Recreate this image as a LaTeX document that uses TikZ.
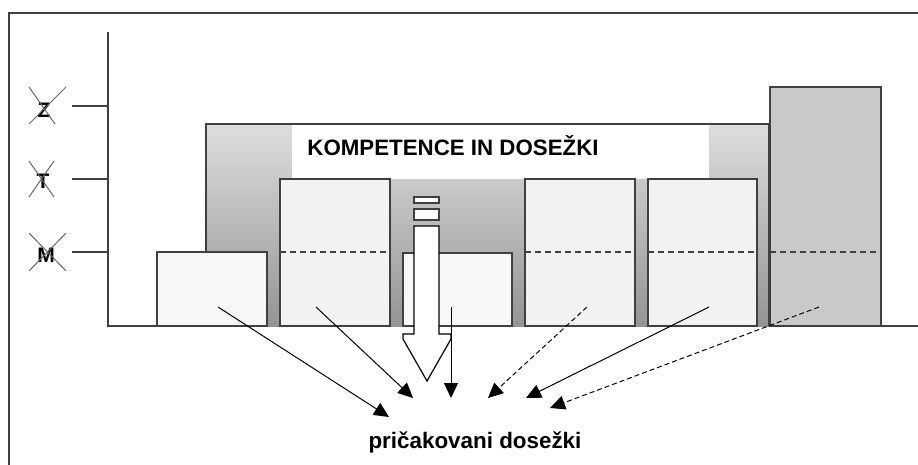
\documentclass[tikz,border=0pt]{standalone}
\usepackage{fontspec}
\setmainfont{Liberation Sans}
\usetikzlibrary{arrows.meta}
\definecolor{shtop}{gray}{0.87}
\definecolor{shbot}{gray}{0.58}
\definecolor{boxfill}{gray}{0.95}
\definecolor{lowfill}{gray}{0.97}
\definecolor{tallfill}{gray}{0.79}
\definecolor{edge}{gray}{0.25}
\tikzset{
  box/.style={draw=edge, line width=1.3pt},
  level/.style={draw=edge, line width=1.6pt, dash pattern=on 6pt off 4pt},
  cross/.style={draw=gray!80!black, line width=1pt},
  flow/.style={draw=black, line width=1pt, -{Triangle[length=15pt,width=14pt]}},
  dflow/.style={flow, dash pattern=on 5pt off 3pt},
  lbl/.style={font=\bfseries\fontsize{21}{25}\selectfont, inner sep=0pt}
}
\begin{document}
\begin{tikzpicture}[x=1pt,y=-1pt]
  \useasboundingbox (0,0) rectangle (918,465);
  % frame
  \draw [edge, line width=2.2pt] (9,470) -- (9,13) -- (925,13);
  % axes and levels
  \draw [edge, line width=1.3pt] (108,32) -- (108,326) -- (918,326);
  \draw [edge, line width=1.3pt] (72,106) -- (108,106);
  \draw [edge, line width=1.3pt] (72,179) -- (108,179);
  \draw [edge, line width=1.3pt] (72,252) -- (108,252);
  \node [lbl] (levZ) at (44,110) {Z};
  \node [lbl] (levT) at (43,181) {T};
  \node [lbl] (levM) at (46,255) {M};
  \draw [cross] (29,87) -- (55,124);
  \draw [cross] (66,87) -- (29,124);
  \draw [cross] (29,161) -- (54,197);
  \draw [cross] (54,161) -- (29,197);
  \draw [cross] (29,233) -- (66,271);
  \draw [cross] (66,233) -- (29,271);
  % shaded background and title
  \shade [top color=shtop, bottom color=shbot] (206,124) rectangle (769,326);
  \draw [edge, line width=1.3pt] (206,326) -- (206,124) -- (769,124) -- (769,326);
  \fill [white] (292,125) rectangle (709,179);
  \node [lbl, font=\bfseries\fontsize{22.3}{26}\selectfont] (title) at (453,146) {KOMPETENCE IN DOSEŽKI};
  % boxes
  \draw [box, fill=lowfill] (157,252) rectangle (267,326);
  \draw [box, fill=boxfill] (280,179) rectangle (390,326);
  \draw [box, fill=lowfill] (403,253) rectangle (512,326);
  \draw [box, fill=boxfill] (525,179) rectangle (635,326);
  \draw [box, fill=boxfill] (648,179) rectangle (757,326);
  \draw [box, fill=tallfill] (770,87) rectangle (881,326);
  \draw [level] (280,252) -- (390,252);
  \draw [level] (525,252) -- (635,252);
  \draw [level] (648,252) -- (757,252);
  \draw [level] (770,252) -- (881,252);
  % hollow arrow
  \draw [edge, line width=1.3pt, fill=white] (414,197) rectangle (439,203);
  \draw [edge, line width=1.3pt, fill=white] (414,209) rectangle (439,220);
  \draw [black, line width=1.2pt, fill=white] (414,226) -- (439,226) -- (439,334) -- (451,334)
    -- (451,339) -- (427,381) -- (403,339) -- (403,334) -- (414,334) -- cycle;
  % expected results
  \node [lbl, font=\bfseries\fontsize{22.4}{26}\selectfont] (result) at (475,442) {pričakovani dosežki};
  \coordinate (s1) at (218,307);
  \coordinate (s2) at (316,307);
  \coordinate (s3) at (451,307);
  \coordinate (s4) at (587,307);
  \coordinate (s5) at (709,307);
  \coordinate (s6) at (819,307);
  \coordinate (e1) at (389,417);
  \coordinate (e2) at (413,398);
  \coordinate (e3) at (451,398);
  \coordinate (e4) at (488,398);
  \coordinate (e5) at (526,398);
  \coordinate (e6) at (550,408);
  \draw [flow] (s1) -- (e1);
  \draw [flow] (s2) -- (e2);
  \draw [flow] (s3) -- (e3);
  \draw [dflow] (s4) -- (e4);
  \draw [flow] (s5) -- (e5);
  \draw [dflow] (s6) -- (e6);
\end{tikzpicture}
\end{document}
